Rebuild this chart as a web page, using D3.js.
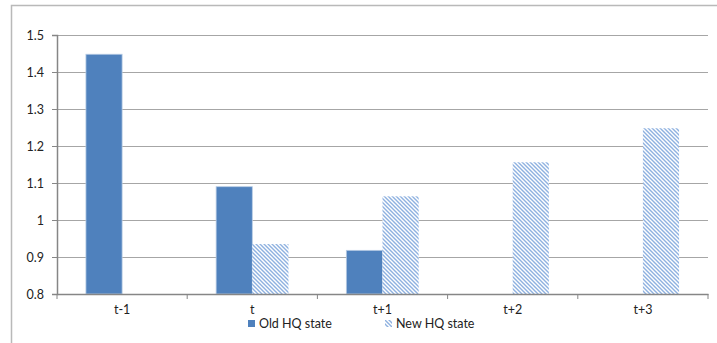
<!DOCTYPE html>
<html>
<head>
<meta charset="utf-8">
<script src="https://cdn.jsdelivr.net/npm/d3@7"></script>
<style>
  html, body { margin: 0; padding: 0; background: #fff; }
  svg { display: block; }
  text { font-family: Lato, "Open Sans", sans-serif; fill: #222; }
</style>
</head>
<body>
<svg id="chart" width="717" height="343"></svg>
<script>
// Periods relative to the headquarters move
const categories = ["t-1", "t", "t+1", "t+2", "t+3"];
const seriesNames = ["Old HQ state", "New HQ state"];
const oldHQ = [1.448, 1.09, 0.918, null, null];
const newHQ = [null, 0.935, 1.064, 1.156, 1.248];
const yTicks = [0.8, 0.9, 1, 1.1, 1.2, 1.3, 1.4, 1.5];

const svg = d3.select("#chart");
const W = 717, H = 343;
const margin = { left: 57, right: 9, top: 35, bottom: 49 };

// outer chart frame
svg.append("rect")
  .attr("x", 11.5).attr("y", 5.5)
  .attr("width", W).attr("height", H)
  .attr("fill", "none").attr("stroke", "#b9b9b9").attr("stroke-width", 1.5);

// diagonal hatch for the new-HQ series
const defs = svg.append("defs");
const pat = defs.append("pattern")
  .attr("id", "hatch")
  .attr("patternUnits", "userSpaceOnUse")
  .attr("width", 4).attr("height", 4);
pat.append("rect").attr("width", 4).attr("height", 4).attr("fill", "#fff");
pat.append("path")
  .attr("d", "M-1,-1 L5,5 M-1,3 L1,5 M3,-1 L5,1")
  .attr("stroke", "#8eb1e0").attr("stroke-width", 1.4);

const x0 = d3.scaleBand()
  .domain(categories)
  .range([margin.left, W - margin.right])
  .paddingInner(0).paddingOuter(0);

const y = d3.scaleLinear()
  .domain([0.8, 1.5])
  .range([H - margin.bottom, margin.top]);

// bars take 1/3.6 of the category each (160% gap)
const bw = x0.bandwidth() / 3.6;

// gridlines
svg.append("g")
  .selectAll("line")
  .data(yTicks.slice(1))
  .join("line")
  .attr("x1", margin.left).attr("x2", W - margin.right)
  .attr("y1", d => Math.round(y(d)) + 0.5).attr("y2", d => Math.round(y(d)) + 0.5)
  .attr("stroke", "#a6a6a6").attr("stroke-width", 1.2);

// y axis
const yAxis = svg.append("g")
  .attr("transform", `translate(${margin.left},0)`)
  .call(d3.axisLeft(y).tickValues(yTicks).tickSize(5).tickPadding(8)
    .tickFormat(d => String(d)));
yAxis.select(".domain").attr("stroke", "#868686").attr("stroke-width", 1.5);
yAxis.selectAll(".tick line").attr("stroke", "#868686");
yAxis.selectAll(".tick text").style("font-size", "12.5px").attr("fill", "#222");

// bars
const cx = c => x0(c) + x0.bandwidth() / 2;
const g = svg.append("g");
g.selectAll("rect.old")
  .data(categories.map((c, i) => ({ c, v: oldHQ[i] })).filter(d => d.v != null))
  .join("rect")
  .attr("class", "old")
  .attr("x", d => cx(d.c) - bw)
  .attr("width", bw)
  .attr("y", d => y(d.v))
  .attr("height", d => y(0.8) - y(d.v))
  .attr("fill", "#4f81bd")
  .attr("stroke", "#b8cce4").attr("stroke-width", 0.8);

g.selectAll("rect.new")
  .data(categories.map((c, i) => ({ c, v: newHQ[i] })).filter(d => d.v != null))
  .join("rect")
  .attr("class", "new")
  .attr("x", d => cx(d.c))
  .attr("width", bw)
  .attr("y", d => y(d.v))
  .attr("height", d => y(0.8) - y(d.v))
  .attr("fill", "url(#hatch)");

// x axis
const xAxis = svg.append("g")
  .attr("transform", `translate(0,${y(0.8)})`)
  .call(d3.axisBottom(x0).tickSize(0).tickPadding(11));
xAxis.select(".domain").attr("stroke", "#868686").attr("stroke-width", 1.5);
xAxis.selectAll(".tick text").style("font-size", "12.5px").attr("fill", "#222");
// category boundary ticks
xAxis.selectAll("line.bound")
  .data(categories.map(c => x0(c)).concat([x0(categories[categories.length - 1]) + x0.bandwidth()]))
  .join("line")
  .attr("class", "bound")
  .attr("x1", d => d).attr("x2", d => d)
  .attr("y1", 0).attr("y2", 5)
  .attr("stroke", "#868686");

// legend
const legend = svg.append("g").attr("transform", "translate(248,320)");
const items = [
  { name: seriesNames[0], fill: "#4f81bd", dx: 0 },
  { name: seriesNames[1], fill: "url(#hatch)", dx: 137 }
];
const li = legend.selectAll("g").data(items).join("g")
  .attr("transform", d => `translate(${d.dx},0)`);
li.append("rect").attr("width", 7).attr("height", 7).attr("fill", d => d.fill);
li.append("text").attr("x", 11).attr("y", 8)
  .style("font-size", "12.5px").text(d => d.name);
</script>
</body>
</html>
